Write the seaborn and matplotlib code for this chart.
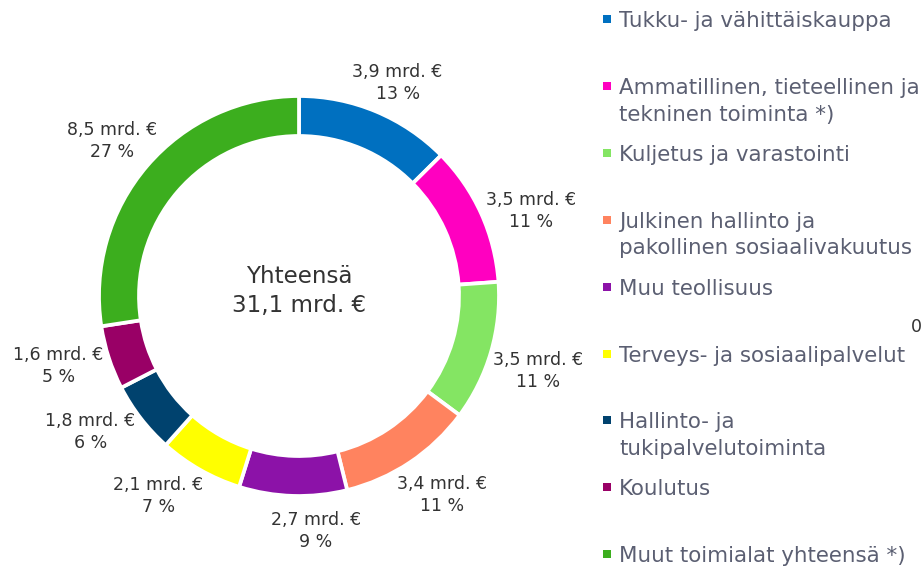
import matplotlib
matplotlib.use("Agg")
import matplotlib.pyplot as plt
import seaborn as sns
import numpy as np
from matplotlib.patches import Rectangle

categories = [
    "Tukku- ja vähittäiskauppa",
    "Ammatillinen, tieteellinen ja\ntekninen toiminta *)",
    "Kuljetus ja varastointi",
    "Julkinen hallinto ja\npakollinen sosiaalivakuutus",
    "Muu teollisuus",
    "Terveys- ja sosiaalipalvelut",
    "Hallinto- ja\ntukipalvelutoiminta",
    "Koulutus",
    "Muut toimialat yhteensä *)",
]
values = [3.9, 3.5, 3.5, 3.4, 2.7, 2.1, 1.8, 1.6, 8.5]
value_labels = ["3,9 mrd. €", "3,5 mrd. €", "3,5 mrd. €", "3,4 mrd. €", "2,7 mrd. €",
                "2,1 mrd. €", "1,8 mrd. €", "1,6 mrd. €", "8,5 mrd. €"]
pct_labels = ["13 %", "11 %", "11 %", "11 %", "9 %", "7 %", "6 %", "5 %", "27 %"]
colors = ["#0070C0", "#FF00C0", "#84E563", "#FF835F", "#8C12A8",
          "#FFFF00", "#00426E", "#990066", "#3CAE1E"]
total_label = "Yhteensä\n31,1 mrd. €"

# label layout nudges (degrees, clockwise) to mimic the original's label placement
label_shift_deg = [1.8, 3.5, 0.3, -2.7, -5.9, 6.0, 5.4, 2.7, -0.3]

sns.set_theme(style="white")
plt.rcParams['font.family'] = ['DejaVu Sans']
palette = sns.color_palette(colors)

W, H = 922, 567
fig = plt.figure(figsize=(W / 100, H / 100), dpi=100)
cx, cy, R = 299, 296, 200
half = 280
ax = fig.add_axes([(cx - half) / W, (H - cy - half) / H, 2 * half / W, 2 * half / H])
lim = half / R

wedges, _ = ax.pie(values, colors=palette, startangle=90, counterclock=False,
                   radius=1.0,
                   wedgeprops=dict(width=0.2, edgecolor="white", linewidth=2.7))
ax.set_xlim(-lim, lim)
ax.set_ylim(-lim, lim)
ax.axis("off")

for w, vl, pl, sh in zip(wedges, value_labels, pct_labels, label_shift_deg):
    th = np.deg2rad((w.theta1 + w.theta2) / 2 - sh)
    r = 1.15 + 0.1 * abs(np.cos(th))
    ax.text(r * np.cos(th), r * np.sin(th) - 0.02, f"{vl}\n{pl}", ha="center",
            va="center", fontsize=12.5, color="#333333", linespacing=1.28)

ax.text(0, 0.025, total_label, ha="center", va="center", fontsize=16.6,
        color="#333333", linespacing=1.32)

# legend
for i, (cat, col) in enumerate(zip(categories, palette)):
    yc = 19 + 66.9 * i
    fig.patches.append(Rectangle((603 / W, (H - yc - 4) / H), 8 / W, 8 / H,
                                 transform=fig.transFigure, facecolor=col,
                                 edgecolor="none"))
    fig.text(619 / W, (H - yc + 8) / H, cat, ha="left", va="top", fontsize=15.4,
             color="#5B5F72", linespacing=1.42)

fig.text(916 / W, (H - 327) / H, "0", ha="center", va="center", fontsize=12.5,
         color="#333333")

fig.savefig("out.png", dpi=100)
